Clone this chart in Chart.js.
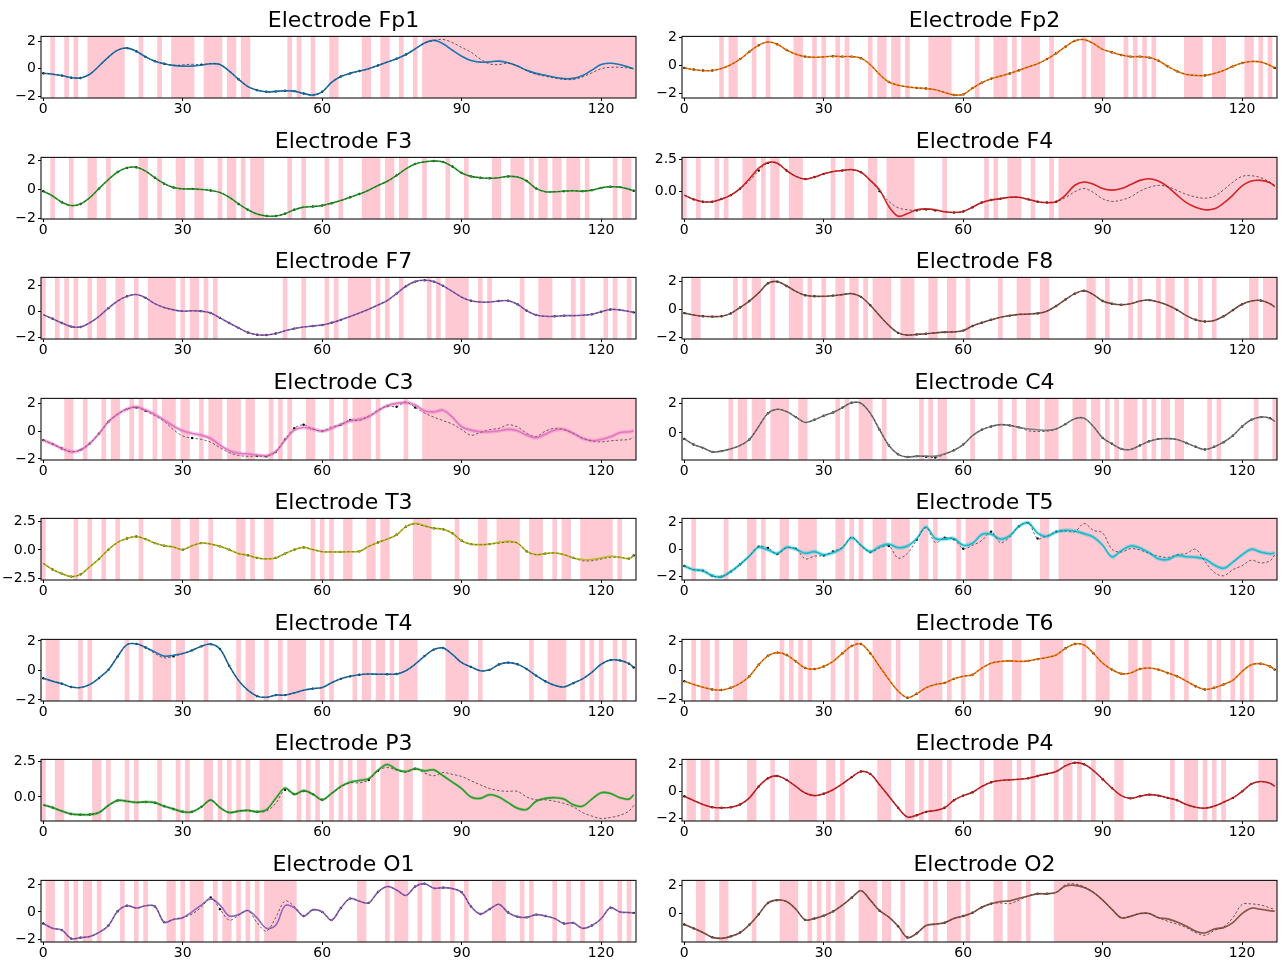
<!DOCTYPE html>
<html>
<head>
<meta charset="utf-8">
<script src="https://cdn.jsdelivr.net/npm/chart.js@4.4.1/dist/chart.umd.min.js"></script>
<style>
  body { margin: 0; background: #fff; width: 1282px; height: 962px; position: relative; overflow: hidden; }
  .panel { position: absolute; height: 120px; }
</style>
</head>
<body>
<script>
// time steps (every 2nd sample, plus the last one)
const steps = [0,2,4,6,8,10,12,14,16,18,20,22,24,26,28,30,32,34,36,38,40,42,44,46,48,50,52,54,56,58,
  60,62,64,66,68,70,72,74,76,78,80,82,84,86,88,90,92,94,96,98,100,102,104,106,108,110,112,114,116,118,
  120,122,124,126,127];
const xTicks = [0, 30, 60, 90, 120];

// ---- Fp1
const predFp1 = [-0.33,-0.4,-0.5,-0.65,-0.67,-0.4,0.2,0.85,1.35,1.5, 1.27,0.86,0.55,0.36,0.24,0.19,0.19,0.26,0.36,0.31,
  -0.17,-0.77,-1.3,-1.56,-1.68,-1.65,-1.6,-1.63,-1.8,-1.92, -1.68,-1.0,-0.57,-0.34,-0.17,0,0.24,0.48,0.72,1.03,
  1.44,1.87,2.06,1.82,1.34,0.91,0.6,0.48,0.5,0.55, 0.43,0.19,-0.12,-0.34,-0.48,-0.62,-0.72,-0.7,-0.5,-0.1, 0.3,0.4,0.3,0.1,0.0];
const truthFp1 = [-0.33,-0.4,-0.5,-0.65,-0.67,-0.4,0.2,0.85,1.35,1.5, 1.27,0.86,0.55,0.36,0.24,0.28,0.32,0.3,0.36,0.31,
  -0.17,-0.77,-1.3,-1.56,-1.68,-1.65,-1.6,-1.63,-1.8,-1.92, -1.68,-1.0,-0.57,-0.34,-0.17,0,0.24,0.48,0.72,1.03,
  1.44,1.85,2.05,2.13,1.9,1.55,1.2,0.7,0.35,0.3, 0.4,0.2,-0.15,-0.4,-0.55,-0.68,-0.78,-0.78,-0.6,-0.3, 0.0,0.1,0.1,0.05,0.0];
const maskFp1 = [[1.5,2.5],[4.5,5.5],[6.5,7.5],[9.5,17.5],[20.5,21.5],[24.5,25.5],[27.5,32.5],[34.5,38.5],[39.5,41.5],[42.5,44.5],
  [52.5,53.5],[54.5,55.5],[57.5,58.5],[61.5,63.5],[68.5,70.5],[72.5,74.5],[76.5,77.5],[79.5,80.5],[81.5,127.5]];

// ---- Fp2
const predFp2 = [-0.16,-0.28,-0.35,-0.35,-0.2,0.07,0.47,1.0,1.47,1.7, 1.54,1.12,0.82,0.65,0.6,0.63,0.68,0.65,0.65,0.54,
  0.07,-0.63,-1.17,-1.4,-1.52,-1.59,-1.64,-1.73,-1.92,-2.1, -2.06,-1.61,-1.22,-0.94,-0.75,-0.56,-0.33,-0.09,0.14,0.47,
  0.89,1.36,1.78,1.87,1.59,1.17,0.96,0.77,0.65,0.65, 0.58,0.35,-0.05,-0.4,-0.63,-0.7,-0.7,-0.56,-0.35,-0.05, 0.19,0.3,0.26,0.02,-0.16];
const truthFp2 = predFp2.slice();
const maskFp2 = [[7.5,8.5],[9.5,11.5],[14.5,15.5],[17.5,18.5],[23.5,25.5],[27.5,28.5],[29.5,30.5],[32.5,33.5],[34.5,35.5],[39.5,40.5],
  [41.5,43.5],[44.5,46.5],[47.5,48.5],[52.5,57.5],[62.5,63.5],[66.5,69.5],[70.5,71.5],[72.5,76.5],[78.5,79.5],[85.5,86.5],
  [87.5,90.5],[94.5,95.5],[96.5,97.5],[98.5,99.5],[100.5,101.5],[107.5,111.5],[113.5,116.5],[120.5,122.5],[123.5,124.5],[125.5,126.5]];

// ---- F3
const predF3 = [-0.14,-0.47,-0.9,-1.13,-1.02,-0.59,0.05,0.66,1.18,1.47, 1.51,1.24,0.79,0.38,0.11,0.02,0.02,-0.02,-0.09,-0.23,
  -0.56,-1.02,-1.42,-1.72,-1.85,-1.85,-1.69,-1.42,-1.24,-1.2, -1.13,-0.97,-0.79,-0.56,-0.34,-0.07,0.25,0.54,0.95,1.4,
  1.74,1.88,1.94,1.88,1.56,1.11,0.88,0.79,0.75,0.79, 0.88,0.84,0.56,0.05,-0.18,-0.18,-0.14,-0.11,-0.14,-0.07, 0.09,0.16,0.14,0,-0.11];
const truthF3 = predF3.slice();
const maskF3 = [[1.5,2.5],[5.5,6.5],[9.5,11.5],[13.5,14.5],[20.5,22.5],[24.5,25.5],[28.5,30.5],[32.5,34.5],[37.5,38.5],[39.5,41.5],
  [42.5,43.5],[44.5,47.5],[52.5,53.5],[55.5,56.5],[60.5,61.5],[63.5,64.5],[68.5,72.5],[73.5,75.5],[76.5,78.5],[81.5,82.5],
  [86.5,87.5],[90.5,91.5],[96.5,98.5],[100.5,103.5],[104.5,105.5],[106.5,108.5],[109.5,111.5],[112.5,115.5],[116.5,117.5],[122.5,123.5],[124.5,126.5]];

// ---- F4
const predF4 = [-0.31,-0.64,-0.82,-0.82,-0.61,-0.31,0.2,0.97,1.79,2.24, 2.17,1.61,1.15,0.94,1.1,1.35,1.53,1.61,1.68,1.48,
  0.84,0.1,-1.2,-1.95,-1.75,-1.45,-1.38,-1.45,-1.61,-1.66, -1.58,-1.25,-0.89,-0.69,-0.59,-0.48,-0.48,-0.64,-0.82,-0.89,
  -0.82,-0.31,0.46,0.71,0.54,0.2,0.08,0.2,0.51,0.84, 0.97,0.79,0.33,-0.31,-0.89,-1.25,-1.45,-1.38,-0.94,-0.31, 0.41,0.79,0.84,0.66,0.38];
const truthF4 = [-0.31,-0.64,-0.82,-0.82,-0.61,-0.31,0.2,0.8,1.6,2.2, 2.17,1.61,1.15,0.94,1.1,1.35,1.53,1.61,1.68,1.48,
  0.84,0.0,-0.8,-1.3,-1.45,-1.5,-1.42,-1.5,-1.61,-1.66, -1.58,-1.25,-0.89,-0.69,-0.59,-0.48,-0.48,-0.64,-0.82,-0.89,
  -0.82,-0.5,-0.05,0.2,-0.1,-0.6,-0.8,-0.7,-0.45,0.0, 0.3,0.45,0.35,0.05,-0.25,-0.45,-0.55,-0.4,0.1,0.7, 1.15,1.2,1.05,0.7,0.45];
const maskF4 = [[-0.5,0.5],[2.5,3.5],[6.5,7.5],[8.5,9.5],[12.5,15.5],[16.5,17.5],[18.5,20.5],[22.5,25.5],[31.5,32.5],[34.5,36.5],
  [39.5,41.5],[43.5,49.5],[55.5,56.5],[64.5,65.5],[66.5,67.5],[69.5,72.5],[74.5,75.5],[78.5,79.5],[80.5,127.5]];

// ---- F7
const predF7 = [-0.25,-0.56,-0.88,-1.15,-1.18,-0.86,-0.37,0.25,0.79,1.15, 1.28,1.03,0.59,0.29,0.12,0.02,0.05,0.02,-0.12,-0.49,
  -0.88,-1.25,-1.6,-1.77,-1.79,-1.67,-1.47,-1.3,-1.18,-1.1, -1.03,-0.86,-0.64,-0.39,-0.12,0.17,0.49,0.83,1.35,1.91,
  2.26,2.36,2.26,1.94,1.52,1.08,0.81,0.71,0.71,0.79, 0.81,0.54,0.05,-0.27,-0.37,-0.37,-0.32,-0.32,-0.29,-0.22, -0.02,0.15,0.12,0,-0.07];
const truthF7 = predF7.slice();
const maskF7 = [[-0.5,0.5],[2.5,3.5],[4.5,5.5],[6.5,7.5],[9.5,10.5],[11.5,13.5],[15.5,17.5],[19.5,20.5],[22.5,28.5],[29.5,30.5],
  [31.5,33.5],[34.5,35.5],[36.5,37.5],[51.5,52.5],[55.5,56.5],[60.5,61.5],[62.5,63.5],[65.5,70.5],[71.5,72.5],[73.5,74.5],
  [76.5,77.5],[82.5,83.5],[84.5,85.5],[86.5,91.5],[93.5,94.5],[95.5,96.5],[102.5,103.5],[106.5,109.5],[113.5,114.5],[115.5,116.5],
  [120.5,121.5],[122.5,123.5],[125.5,126.5]];

// ---- F8
const predF8 = [-0.28,-0.42,-0.51,-0.53,-0.51,-0.3,0.12,0.58,1.16,1.85, 1.97,1.66,1.27,0.99,0.92,0.92,0.97,1.04,1.11,0.88,
  0.28,-0.46,-1.16,-1.69,-1.85,-1.8,-1.76,-1.69,-1.64,-1.62, -1.53,-1.2,-0.97,-0.76,-0.58,-0.46,-0.37,-0.35,-0.3,-0.14,
  0.23,0.69,1.11,1.32,1.04,0.58,0.39,0.32,0.39,0.58, 0.65,0.51,0.28,-0.05,-0.46,-0.76,-0.88,-0.81,-0.51,-0.07, 0.35,0.58,0.62,0.39,0.16];
const truthF8 = predF8.slice();
const maskF8 = [[1.5,3.5],[10.5,11.5],[12.5,13.5],[14.5,16.5],[18.5,19.5],[22.5,25.5],[26.5,27.5],[29.5,30.5],[32.5,34.5],[35.5,37.5],
  [38.5,39.5],[40.5,44.5],[46.5,49.5],[52.5,54.5],[56.5,58.5],[60.5,61.5],[67.5,68.5],[71.5,74.5],[76.5,78.5],[86.5,88.5],
  [90.5,91.5],[95.5,96.5],[97.5,98.5],[101.5,102.5],[103.5,105.5],[107.5,108.5],[110.5,111.5],[113.5,114.5],[121.5,123.5],[124.5,127.5]];

// ---- C3
const predC3 = [-0.65,-0.93,-1.25,-1.48,-1.37,-0.89,-0.17,0.67,1.22,1.58, 1.75,1.51,1.2,0.79,0.36,0.02,-0.17,-0.29,-0.53,-1.01,
  -1.41,-1.6,-1.65,-1.72,-1.77,-1.48,-0.65,0.07,0.26,0.14, 0,0.19,0.48,0.72,0.84,1.03,1.46,1.82,1.99,2.04,
  1.87,1.45,1.38,1.5,1.0,0.31,0.07,-0.05,-0.05,0.02, 0.12,0.02,-0.29,-0.48,-0.22,0.07,0.12,-0.17,-0.53,-0.69, -0.6,-0.41,-0.12,-0.05,0.02];
const truthC3 = [-0.65,-0.93,-1.25,-1.5,-1.35,-0.89,-0.17,0.67,1.22,1.58, 1.7,1.45,1.1,0.7,0.1,-0.35,-0.5,-0.6,-0.8,-1.2,
  -1.55,-1.75,-1.82,-1.8,-1.82,-1.5,-0.6,0.2,0.45,0.15, 0,0.3,0.45,0.8,0.75,1.1,1.5,1.8,1.75,2.1,
  1.7,1.3,1.0,0.75,0.5,0.1,-0.3,-0.1,0.1,0.2, 0.45,0.3,-0.15,-0.4,0.0,0.2,0.1,-0.15,-0.5,-0.7, -0.78,-0.7,-0.65,-0.6,-0.45];
const maskC3 = [[4.5,6.5],[8.5,9.5],[12.5,13.5],[14.5,16.5],[18.5,19.5],[20.5,21.5],[23.5,24.5],[25.5,28.5],[29.5,31.5],[33.5,34.5],
  [35.5,38.5],[39.5,42.5],[43.5,45.5],[48.5,49.5],[50.5,51.5],[52.5,53.5],[56.5,58.5],[61.5,62.5],[64.5,65.5],[66.5,70.5],
  [71.5,72.5],[77.5,78.5],[81.5,127.5]];

// ---- C4
const predC4 = [-0.4,-0.78,-1.0,-1.27,-1.22,-1.07,-0.84,-0.44,0.44,1.33, 1.6,1.44,1.07,0.71,0.89,1.16,1.38,1.71,2.04,2.0,
  1.33,0.22,-0.84,-1.44,-1.62,-1.56,-1.56,-1.56,-1.4,-1.16, -0.78,-0.18,0.22,0.44,0.56,0.51,0.38,0.27,0.22,0.18,
  0.27,0.6,0.96,1.0,0.44,-0.33,-0.73,-1.07,-1.11,-0.84, -0.56,-0.4,-0.38,-0.44,-0.67,-0.93,-1.11,-0.93,-0.62,-0.18, 0.44,0.89,1.07,1.0,0.78];
const truthC4 = [-0.4,-0.78,-1.0,-1.27,-1.22,-1.07,-0.84,-0.44,0.44,1.33, 1.6,1.44,1.07,0.71,0.89,1.16,1.38,1.71,2.04,2.0,
  1.33,0.22,-0.84,-1.44,-1.62,-1.56,-1.6,-1.65,-1.45,-1.16, -0.78,-0.18,0.22,0.44,0.56,0.51,0.38,0.15,0.1,0.12,
  0.27,0.6,0.96,1.0,0.44,-0.33,-0.73,-1.07,-1.11,-0.84, -0.56,-0.4,-0.38,-0.44,-0.67,-0.93,-1.11,-0.93,-0.62,-0.18, 0.44,0.89,1.07,1.0,0.78];
const maskC4 = [[9.5,10.5],[11.5,13.5],[14.5,17.5],[18.5,22.5],[24.5,26.5],[32.5,33.5],[34.5,35.5],[37.5,40.5],[42.5,43.5],[50.5,51.5],
  [52.5,53.5],[54.5,56.5],[61.5,62.5],[67.5,68.5],[70.5,71.5],[73.5,76.5],[77.5,80.5],[83.5,86.5],[87.5,89.5],[90.5,91.5],
  [92.5,93.5],[94.5,97.5],[98.5,99.5],[100.5,101.5],[102.5,104.5],[105.5,107.5],[112.5,113.5],[114.5,115.5],[122.5,123.5],[126.5,127.5]];

// ---- T3
const predT3 = [-1.19,-1.72,-2.09,-2.35,-2.15,-1.48,-0.78,0.03,0.67,1.02, 1.19,0.96,0.61,0.38,0.26,0.03,0.38,0.61,0.52,0.32,
  0.03,-0.32,-0.47,-0.7,-0.78,-0.7,-0.32,0.03,0.23,0.03, -0.15,-0.17,-0.17,-0.15,-0.12,0.32,0.67,0.96,1.34,2.06,
  2.35,2.15,1.92,1.83,1.48,0.81,0.52,0.47,0.52,0.67, 0.76,0.61,-0.12,-0.41,-0.32,-0.26,-0.41,-0.7,-0.84,-0.84, -0.7,-0.55,-0.64,-0.76,-0.49];
const truthT3 = [-1.19,-1.72,-2.09,-2.35,-2.15,-1.48,-0.78,0.03,0.67,1.02, 1.19,0.96,0.61,0.38,0.26,0.03,0.38,0.61,0.52,0.32,
  0.03,-0.32,-0.47,-0.7,-0.78,-0.7,-0.32,0.03,0.23,0.03, -0.15,-0.17,-0.17,-0.15,-0.12,0.32,0.67,0.96,1.34,2.06,
  2.3,2.1,1.92,1.83,1.48,0.81,0.52,0.47,0.52,0.6, 0.7,0.61,-0.12,-0.41,-0.32,-0.26,-0.41,-0.7,-0.95,-0.95, -0.8,-0.65,-0.64,-0.76,-0.49];
const maskT3 = [[-0.5,0.5],[6.5,7.5],[9.5,10.5],[12.5,13.5],[15.5,16.5],[20.5,21.5],[27.5,29.5],[31.5,33.5],[35.5,36.5],[41.5,43.5],
  [44.5,45.5],[47.5,49.5],[57.5,58.5],[59.5,60.5],[61.5,62.5],[64.5,66.5],[69.5,71.5],[72.5,74.5],[79.5,83.5],[88.5,89.5],
  [93.5,95.5],[97.5,102.5],[104.5,107.5],[109.5,110.5],[111.5,113.5],[115.5,122.5],[123.5,124.5]];

// ---- T5
const predT5 = [-1.23,-1.5,-1.57,-1.95,-2.02,-1.64,-1.1,-0.49,0.15,-0.05, -0.3,0.15,0.0,-0.29,-0.17,-0.4,-0.25,0.1,0.85,0.3,
  -0.17,0.2,0.38,0.12,0.25,0.8,1.65,0.8,0.75,0.8, 0.3,0.45,1.1,1.12,0.75,1.0,1.7,1.95,1.2,0.95,
  1.28,1.4,1.35,1.15,0.9,0.3,-0.55,-0.1,0.25,0.1, -0.25,-0.7,-0.75,-0.45,-0.55,-0.58,-0.72,-1.15,-1.4,-0.95, -0.4,0.0,-0.2,-0.32,-0.25];
const truthT5 = [-1.23,-1.5,-1.57,-1.95,-2.02,-1.64,-1.1,-0.49,0.2,0.1, -0.35,0.1,0.05,-0.7,-0.5,-0.45,-0.15,0.15,0.9,0.25,
  -0.2,0.1,0.25,-0.65,-0.3,0.7,1.6,0.5,0.85,0.75, 0.05,0.3,0.65,1.3,0.5,0.9,1.7,1.95,0.8,1.0,
  1.3,1.35,1.3,1.9,1.4,1.2,0.0,-0.2,0.05,-0.05, -0.3,-0.5,-0.6,-0.4,-0.3,0.0,-0.9,-1.7,-1.95,-1.5, -1.2,-0.8,-1.0,-0.85,-0.4];
const maskT5 = [[1.5,2.5],[8.5,9.5],[13.5,15.5],[16.5,17.5],[20.5,22.5],[24.5,28.5],[32.5,34.5],[35.5,36.5],[37.5,38.5],[40.5,43.5],
  [44.5,48.5],[50.5,52.5],[53.5,54.5],[58.5,59.5],[60.5,65.5],[66.5,70.5],[76.5,78.5],[80.5,127.5]];

// ---- T4
const predT4 = [-0.53,-0.73,-0.9,-1.12,-1.16,-0.95,-0.51,0.04,0.95,1.75, 1.8,1.55,1.25,0.97,1.03,1.14,1.36,1.63,1.78,1.45,
  0.31,-0.68,-1.34,-1.74,-1.82,-1.67,-1.67,-1.52,-1.34,-1.23, -1.16,-0.84,-0.57,-0.4,-0.29,-0.24,-0.26,-0.26,-0.24,-0.02,
  0.42,0.97,1.41,1.52,1.08,0.53,0.24,-0.02,0.04,0.4, 0.53,0.42,0.09,-0.35,-0.73,-1.01,-1.12,-0.86,-0.57,-0.13, 0.42,0.7,0.68,0.46,0.2];
const truthT4 = [-0.53,-0.73,-0.9,-1.12,-1.16,-0.95,-0.51,0.04,0.95,1.75, 1.8,1.55,1.15,0.85,0.95,1.14,1.36,1.63,1.78,1.45,
  0.31,-0.68,-1.34,-1.74,-1.82,-1.67,-1.67,-1.52,-1.34,-1.23, -1.16,-0.84,-0.57,-0.4,-0.29,-0.24,-0.26,-0.26,-0.24,-0.02,
  0.42,0.97,1.41,1.52,1.08,0.53,0.24,-0.02,0.04,0.4, 0.53,0.42,0.09,-0.35,-0.73,-1.01,-1.12,-0.86,-0.57,-0.13, 0.42,0.7,0.68,0.46,0.2];
const maskT4 = [[0.5,3.5],[7.5,8.5],[9.5,10.5],[17.5,18.5],[20.5,21.5],[23.5,27.5],[28.5,30.5],[34.5,35.5],[41.5,42.5],[43.5,45.5],
  [47.5,48.5],[50.5,51.5],[52.5,56.5],[59.5,60.5],[61.5,62.5],[66.5,67.5],[68.5,70.5],[71.5,73.5],[74.5,75.5],[76.5,80.5],
  [86.5,91.5],[93.5,94.5],[104.5,105.5],[108.5,112.5],[115.5,116.5],[117.5,118.5],[119.5,120.5],[122.5,123.5],[124.5,125.5]];

// ---- T6
const predT6 = [-0.75,-0.98,-1.17,-1.33,-1.37,-1.21,-0.91,-0.41,0.39,1.01, 1.23,1.07,0.62,0.16,0.09,0.27,0.62,1.19,1.69,1.83,
  1.19,0.27,-0.64,-1.44,-1.9,-1.62,-1.21,-0.98,-0.87,-0.59, -0.41,-0.3,0.16,0.5,0.62,0.66,0.62,0.66,0.78,0.89,
  1.07,1.53,1.83,1.76,1.19,0.5,0.05,-0.23,-0.18,0.09, 0.16,0.05,-0.18,-0.41,-0.75,-1.1,-1.33,-1.21,-0.98,-0.69, -0.07,0.39,0.46,0.27,0.05];
const truthT6 = predT6.slice();
const maskT6 = [[1.5,2.5],[3.5,5.5],[6.5,7.5],[10.5,13.5],[20.5,21.5],[22.5,23.5],[24.5,25.5],[26.5,27.5],[31.5,32.5],[34.5,35.5],
  [36.5,37.5],[40.5,44.5],[45.5,46.5],[50.5,55.5],[56.5,57.5],[59.5,60.5],[63.5,64.5],[65.5,68.5],[70.5,72.5],[76.5,81.5],
  [85.5,86.5],[88.5,91.5],[95.5,97.5],[98.5,100.5],[104.5,105.5],[107.5,108.5],[112.5,113.5],[114.5,115.5],[117.5,118.5],[119.5,120.5],[121.5,122.5]];

// ---- P3
const predP3 = [-0.56,-0.75,-1.0,-1.2,-1.25,-1.24,-1.1,-0.6,-0.25,-0.3, -0.38,-0.35,-0.4,-0.65,-0.85,-1.05,-1.05,-0.7,-0.22,-0.75,
  -1.1,-1.0,-0.95,-1.05,-0.9,-0.1,0.63,0.2,0.45,0.2, -0.2,0.25,0.75,1.05,1.17,1.3,1.9,2.3,1.95,1.8,
  2.0,1.85,1.92,1.5,1.05,0.6,0.0,-0.1,0.16,0.0, -0.4,-0.8,-0.88,-0.3,-0.1,-0.05,-0.15,-0.55,-0.65,-0.15, 0.3,0.25,-0.05,-0.15,0.16];
const truthP3 = [-0.56,-0.75,-1.0,-1.2,-1.25,-1.24,-1.1,-0.6,-0.25,-0.3, -0.38,-0.35,-0.4,-0.65,-0.85,-1.05,-1.05,-0.7,-0.22,-0.75,
  -1.1,-1.0,-0.95,-1.05,-1.0,-0.45,0.5,0.2,0.42,0.2, -0.2,0.25,0.7,1.0,1.0,1.2,1.85,2.1,1.9,1.75,
  2.0,1.7,1.5,1.73,1.6,1.45,1.15,0.86,0.6,0.45, 0.4,0.4,0.0,-0.2,-0.2,-0.3,-0.45,-0.7,-1.1,-1.35, -1.52,-1.45,-1.3,-1.0,-0.6];
const maskP3 = [[-0.5,0.5],[2.5,4.5],[10.5,12.5],[13.5,14.5],[17.5,18.5],[19.5,20.5],[24.5,25.5],[28.5,29.5],[30.5,31.5],[34.5,36.5],
  [37.5,38.5],[39.5,40.5],[41.5,42.5],[43.5,44.5],[46.5,51.5],[54.5,55.5],[56.5,57.5],[58.5,59.5],[61.5,62.5],[63.5,64.5],
  [65.5,66.5],[67.5,69.5],[70.5,71.5],[72.5,76.5],[77.5,79.5],[81.5,127.5]];

// ---- P4
const predP4 = [-0.36,-0.67,-0.96,-1.16,-1.2,-1.16,-0.96,-0.48,0.36,0.96, 1.13,0.84,0.36,-0.12,-0.31,-0.17,0.12,0.55,1.04,1.45,
  1.28,0.48,-0.36,-1.2,-1.88,-1.75,-1.5,-1.4,-1.2,-0.65, -0.31,-0.07,0.36,0.67,0.8,0.84,0.89,0.96,1.13,1.28,
  1.45,1.88,2.1,1.98,1.52,0.89,0.24,-0.31,-0.51,-0.36, -0.24,-0.31,-0.48,-0.65,-0.96,-1.16,-1.23,-1.08,-0.8,-0.48, 0,0.55,0.72,0.6,0.36];
const truthP4 = predP4.slice();
const maskP4 = [[0.5,2.5],[3.5,5.5],[6.5,7.5],[13.5,15.5],[18.5,19.5],[22.5,28.5],[30.5,32.5],[33.5,34.5],[41.5,44.5],[47.5,49.5],
  [50.5,51.5],[52.5,55.5],[56.5,57.5],[63.5,64.5],[66.5,70.5],[71.5,72.5],[74.5,75.5],[79.5,80.5],[81.5,83.5],[84.5,85.5],
  [87.5,88.5],[92.5,94.5],[104.5,105.5],[107.5,110.5],[111.5,112.5],[113.5,114.5],[115.5,116.5],[123.5,127.5]];

// ---- O1
const predO1 = [-0.85,-1.2,-1.33,-1.95,-1.88,-1.8,-1.5,-1.0,0.05,0.45, 0.28,0.45,0.4,-0.75,-0.55,-0.42,0.0,0.5,0.95,0.5,
  -0.3,-0.2,0.1,-0.45,-1.2,-0.97,0.45,0.3,-0.3,0.15, 0.0,-0.6,0.28,0.97,0.78,0.66,1.45,1.85,1.6,1.2,
  1.85,2.06,1.73,1.77,1.7,1.43,0.4,-0.15,0.2,0.55, -0.05,-0.35,-0.4,-0.2,-0.3,-0.48,-0.85,-0.8,-1.2,-1.0, -0.5,0.3,0.0,-0.05,-0.07];
const truthO1 = [-0.85,-1.2,-1.33,-1.95,-1.88,-1.8,-1.5,-1.0,0.05,0.45, 0.28,0.45,0.4,-0.75,-0.55,-0.42,-0.15,0.35,1.05,0.2,
  -0.6,-0.25,0.1,-0.8,-1.4,-0.4,0.8,0.4,-0.3,0.15, 0.0,-0.6,0.28,0.97,0.78,0.66,1.45,1.85,1.6,1.2,
  1.85,2.06,1.73,1.77,1.7,1.43,0.4,-0.15,0.2,0.55, -0.05,-0.35,-0.4,-0.2,-0.3,-0.48,-0.85,-0.8,-1.2,-1.0, -0.5,0.3,0.0,-0.05,-0.07];
const maskO1 = [[0.5,2.5],[4.5,5.5],[6.5,7.5],[8.5,10.5],[11.5,12.5],[16.5,17.5],[19.5,20.5],[21.5,22.5],[26.5,28.5],[29.5,30.5],
  [31.5,34.5],[36.5,37.5],[38.5,40.5],[41.5,42.5],[43.5,44.5],[45.5,46.5],[47.5,54.5],[67.5,69.5],[73.5,74.5],[75.5,78.5],
  [80.5,81.5],[83.5,85.5],[87.5,88.5],[90.5,91.5],[96.5,99.5],[102.5,103.5],[104.5,105.5],[109.5,110.5],[112.5,113.5],[115.5,116.5],
  [119.5,120.5],[123.5,124.5],[125.5,126.5]];

// ---- O2
const predO2 = [-0.78,-1.05,-1.35,-1.68,-1.76,-1.62,-1.35,-0.8,-0.05,0.75, 0.95,0.85,0.3,-0.45,-0.35,-0.15,0.15,0.6,1.12,1.62,
  0.95,0.2,-0.25,-0.9,-1.7,-1.4,-0.85,-0.75,-0.65,-0.35, -0.18,0.05,0.45,0.7,0.85,0.9,1.08,1.25,1.4,1.4,
  1.5,1.95,2.0,1.85,1.5,0.95,0.3,-0.3,-0.2,0.0, 0.0,-0.3,-0.38,-0.6,-0.9,-1.25,-1.38,-1.1,-1.0,-0.65, 0.0,0.38,0.3,0.2,0.16];
const truthO2 = [-0.78,-1.05,-1.35,-1.68,-1.76,-1.62,-1.35,-0.8,-0.05,0.75, 0.95,0.85,0.3,-0.45,-0.35,-0.15,0.15,0.6,1.12,1.62,
  0.95,0.2,-0.25,-0.9,-1.7,-1.4,-0.85,-0.75,-0.65,-0.35, -0.18,0.05,0.45,0.7,0.75,0.7,0.95,1.25,1.4,1.4,
  1.5,2.05,2.1,1.9,1.5,0.95,0.3,-0.3,-0.2,0.0, 0.0,-0.3,-0.55,-0.75,-1.0,-1.35,-1.55,-1.2,-0.95,-0.3, 0.65,0.68,0.6,0.4,0.28];
const maskO2 = [[2.5,4.5],[7.5,9.5],[14.5,15.5],[20.5,24.5],[26.5,27.5],[28.5,29.5],[30.5,31.5],[32.5,34.5],[37.5,41.5],[42.5,44.5],
  [46.5,47.5],[51.5,52.5],[53.5,54.5],[56.5,59.5],[60.5,61.5],[66.5,68.5],[69.5,72.5],[73.5,74.5],[79.5,127.5]];

// panel order: row by row, left then right
const electrodes = ['Fp1','Fp2','F3','F4','F7','F8','C3','C4','T3','T5','T4','T6','P3','P4','O1','O2'];
const preds  = [predFp1,predFp2,predF3,predF4,predF7,predF8,predC3,predC4,predT3,predT5,predT4,predT6,predP3,predP4,predO1,predO2];
const truths = [truthFp1,truthFp2,truthF3,truthF4,truthF7,truthF8,truthC3,truthC4,truthT3,truthT5,truthT4,truthT6,truthP3,truthP4,truthO1,truthO2];
const masks  = [maskFp1,maskFp2,maskF3,maskF4,maskF7,maskF8,maskC3,maskC4,maskT3,maskT5,maskT4,maskT6,maskP3,maskP4,maskO1,maskO2];
const yTicks = [[-2,0,2],[-2,0,2],[-2,0,2],[0,2.5],[-2,0,2],[-2,0,2],[-2,0,2],[0,2],
  [-2.5,0,2.5],[-2,0,2],[-2,0,2],[-2,0,2],[0,2.5],[-2,0,2],[-2,0,2],[0,2]];
const yLimits = [[-2.13,2.35],[-2.32,2.1],[-2.06,2.19],[-2.17,2.63],[-2.09,2.58],[-2.13,2.27],[-2.08,2.35],[-1.82,2.33],
  [-2.65,2.79],[-2.26,2.28],[-2.07,2.1],[-2.13,2.15],[-1.7,2.66],[-2.17,2.34],[-2.2,2.3],[-2.02,2.35]];
const bandHalfWidths = [0.04,0.03,0.03,0.05,0.03,0.03,0.15,0.03,0.08,0.15,0.03,0.03,0.1,0.03,0.06,0.06];

const colors = ['#1f77b4','#ff7f0e','#2ca02c','#d62728','#9467bd','#8c564b','#e377c2','#7f7f7f','#bcbd22','#17becf'];
const FONT = "'DejaVu Sans', sans-serif";
Chart.defaults.font.family = FONT;

function withAlpha(hex, a) {
  const n = parseInt(hex.slice(1), 16);
  return `rgba(${(n >> 16) & 255},${(n >> 8) & 255},${n & 255},${a})`;
}

function isMasked(t, spans) {
  return spans.some(([s, e]) => t > s && t < e);
}

function tickLabel(v, decimals) {
  const s = decimals ? Math.abs(v).toFixed(1) : String(Math.abs(v));
  return v < 0 ? '\u2212' + s : s;
}

// pink masked spans behind the data, black frame and the panel title
function makePanelPlugin(spans, title) {
  return {
    id: 'panelDecor',
    beforeDatasetsDraw(chart) {
      const { ctx, chartArea: a, scales: { x } } = chart;
      ctx.save();
      ctx.beginPath();
      ctx.rect(a.left, a.top, a.right - a.left, a.bottom - a.top);
      ctx.clip();
      ctx.fillStyle = 'rgba(255,192,203,0.85)';
      spans.forEach(([s, e]) => {
        const x1 = x.getPixelForValue(s);
        const x2 = x.getPixelForValue(e);
        ctx.fillRect(x1, a.top, x2 - x1, a.bottom - a.top);
      });
      ctx.restore();
    },
    afterDraw(chart) {
      const { ctx, chartArea: a } = chart;
      ctx.save();
      ctx.strokeStyle = '#111';
      ctx.lineWidth = 1.1;
      ctx.strokeRect(a.left, a.top, a.right - a.left, a.bottom - a.top);
      ctx.fillStyle = '#000';
      ctx.font = `22px ${FONT}`;
      ctx.textAlign = 'center';
      ctx.textBaseline = 'alphabetic';
      ctx.fillText(title, (a.left + a.right) / 2 + 5, 27);
      ctx.restore();
    }
  };
}

electrodes.forEach((name, i) => {
  const row = Math.floor(i / 2);
  const col = i % 2;
  const div = document.createElement('div');
  div.className = 'panel';
  const width = col === 0 ? 640 : 642;
  div.style.left = (col === 0 ? 0 : 640) + 'px';
  div.style.top = Math.round(row * 120.57) + 'px';
  div.style.width = width + 'px';
  const canvas = document.createElement('canvas');
  canvas.width = width;
  canvas.height = 120;
  div.appendChild(canvas);
  document.body.appendChild(div);

  const color = colors[i % 10];
  const pred = preds[i], truth = truths[i], spans = masks[i];
  const w = bandHalfWidths[i];
  const predPts = steps.map((t, k) => ({ x: t, y: pred[k] }));
  const truthPts = steps.map((t, k) => ({ x: t, y: truth[k] }));
  const lowPts = steps.map((t, k) => ({ x: t, y: pred[k] - w }));
  const highPts = steps.map((t, k) => ({ x: t, y: pred[k] + w }));
  const obsPts = truthPts.filter(p => !isMasked(p.x, spans));
  const ticksY = yTicks[i];
  const decimals = ticksY.some(v => !Number.isInteger(v));
  const tension = 0.35;

  new Chart(canvas, {
    type: 'line',
    data: {
      datasets: [
        { data: lowPts, borderWidth: 0, pointRadius: 0, fill: false, tension },
        { data: highPts, borderWidth: 0, pointRadius: 0, fill: '-1', backgroundColor: withAlpha(color, 0.35), tension },
        { data: truthPts, borderColor: 'rgba(30,30,30,0.75)', borderWidth: 0.9, borderDash: [2.5, 2], pointRadius: 0, fill: false, tension },
        { data: predPts, borderColor: color, borderWidth: 1.6, pointRadius: 0, fill: false, tension },
        { data: obsPts, showLine: false, pointRadius: 1.2, pointBorderWidth: 0, pointBackgroundColor: '#000' }
      ]
    },
    options: {
      responsive: false,
      animation: false,
      devicePixelRatio: 1,
      layout: { padding: { left: 0, right: col === 0 ? 4 : 5, top: 36.4, bottom: 0 } },
      plugins: {
        legend: { display: false },
        tooltip: { enabled: false },
        title: { display: false }
      },
      scales: {
        x: {
          type: 'linear',
          min: -0.5,
          max: 127.5,
          afterBuildTicks: s => { s.ticks = xTicks.map(v => ({ value: v })); },
          afterFit: s => { s.height = 22; },
          ticks: { color: '#000', font: { size: 14 }, padding: 0, maxRotation: 0, autoSkip: false },
          grid: { display: true, drawOnChartArea: false, drawTicks: true, tickLength: 3, color: '#000' },
          border: { display: false }
        },
        y: {
          min: yLimits[i][0],
          max: yLimits[i][1],
          afterBuildTicks: s => { s.ticks = ticksY.map(v => ({ value: v })); },
          afterFit: s => { s.width = col === 0 ? 41 : 42; },
          ticks: { color: '#000', font: { size: 14 }, padding: 2, callback: v => tickLabel(v, decimals) },
          grid: { display: true, drawOnChartArea: false, drawTicks: true, tickLength: 3, color: '#000' },
          border: { display: false }
        }
      }
    },
    plugins: [makePanelPlugin(spans, 'Electrode ' + name)]
  });
});
</script>
</body>
</html>
